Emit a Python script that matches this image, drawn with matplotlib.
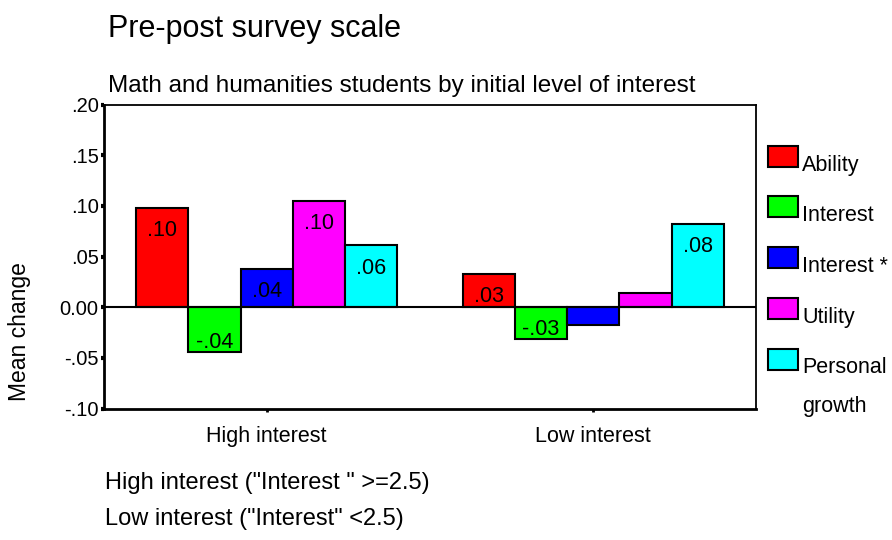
import matplotlib.pyplot as plt
from matplotlib.patches import Rectangle
import numpy as np

plt.rcParams['font.family'] = ['Liberation Sans', 'DejaVu Sans']

groups = ["High interest", "Low interest"]
series = ["Ability", "Interest", "Interest *", "Utility", "Personal\ngrowth"]
colors = ["#ff0000", "#00ff00", "#0000ff", "#ff00ff", "#00ffff"]
high_values = [0.098, -0.044, 0.038, 0.105, 0.061]
low_values = [0.033, -0.031, -0.018, 0.014, 0.082]
ytick_values = [-0.10, -0.05, 0.0, 0.05, 0.10, 0.15, 0.20]
ytick_labels = ["-.10", "-.05", "0.00", ".05", ".10", ".15", ".20"]
footnotes = ['High interest ("Interest " >=2.5)', 'Low interest ("Interest" <2.5)']

W, H = 892, 540
fig = plt.figure(figsize=(W / 100, H / 100), dpi=100)
ax = fig.add_axes([103.5 / W, 1 - 408.5 / H, 653 / W, 304 / H])

x = np.arange(len(groups))
width = 0.16
values = np.array([high_values, low_values])  # groups x series


def fmt(v):
    s = f"{v:.2f}"
    return s.replace("0.", ".", 1)


for i, (name, col) in enumerate(zip(series, colors)):
    pos = x + (i - 2) * width
    vals = values[:, i]
    ax.bar(pos, vals, width, color=col, edgecolor='black', linewidth=1.5, zorder=2)
    for p, v in zip(pos, vals):
        if abs(v) < 0.025:
            continue  # too small, not labelled in the original
        dy = -16.5 if v > 0 else 6.5
        ax.annotate(fmt(v), (p, v), xytext=(0, dy), textcoords='offset points',
                    ha='center', va='center', fontsize=15.5, zorder=3)

ax.axhline(0, color='black', lw=1.5, zorder=3)
ax.set_xlim(-0.5, 1.5)
ax.set_ylim(-0.10, 0.20)
ax.set_yticks(ytick_values)
ax.set_yticklabels(ytick_labels)
ax.set_xticks(x)
ax.set_xticklabels(groups)
ax.tick_params(axis='y', length=2.5, width=3, pad=1, labelsize=14.5)
ax.tick_params(axis='x', length=2.5, width=2, pad=10, labelsize=15.5)
for side in ['top', 'right']:
    ax.spines[side].set_linewidth(1.3)
for side in ['left', 'bottom']:
    ax.spines[side].set_linewidth(2)

fig.text(108 / W, 1 - 37 / H, "Pre-post survey scale", fontsize=22, va='baseline')
fig.text(108 / W, 1 - 92 / H, "Math and humanities students by initial level of interest",
         fontsize=17.5, va='baseline')
fig.text(20 / W, 1 - 332 / H, "Mean change", rotation=90, ha='center', va='center', fontsize=16.5)
fig.text(105 / W, 1 - 489 / H, footnotes[0], fontsize=17, va='baseline')
fig.text(105 / W, 1 - 525 / H, footnotes[1], fontsize=17, va='baseline')

# legend drawn by hand to match the original layout
line_gap = 38.4
for i, (name, col) in enumerate(zip(series, colors)):
    top = 145.7 + i * 50.7
    fig.patches.append(Rectangle((768 / W, 1 - (top + 21) / H), 30 / W, 21 / H,
                                 facecolor=col, edgecolor='black', lw=1.5,
                                 transform=fig.transFigure))
    extra = name.count("\n") * line_gap
    fig.text(802 / W, 1 - (top + 25 + extra) / H, name, fontsize=15.5, va='baseline',
             linespacing=2.1)

fig.savefig("out.png", dpi=100)
